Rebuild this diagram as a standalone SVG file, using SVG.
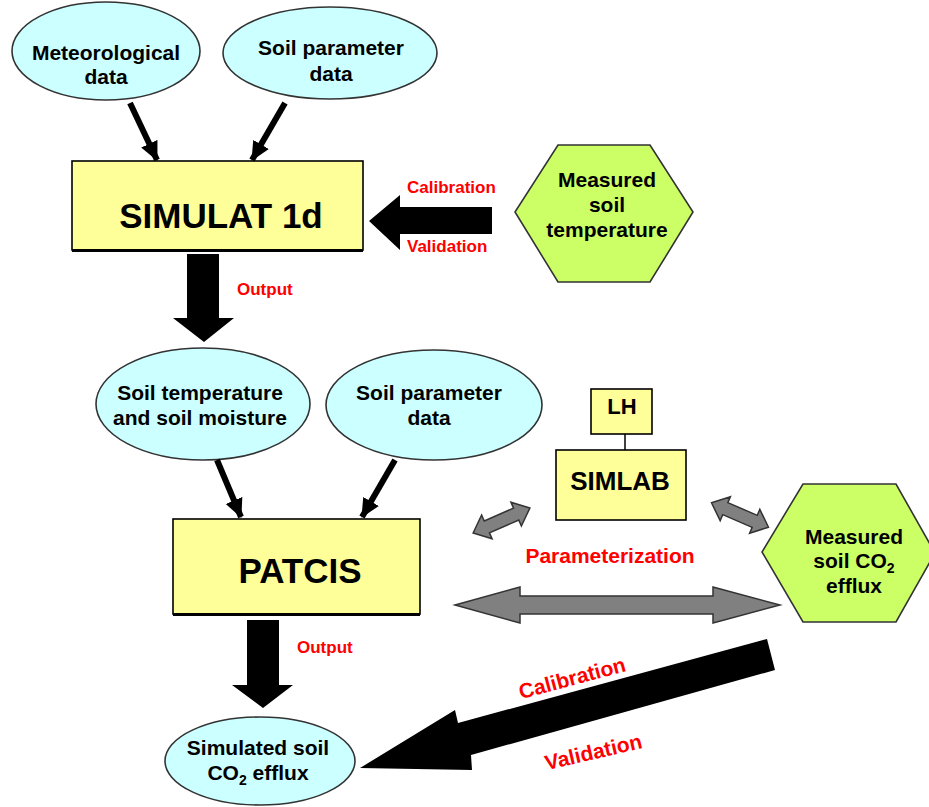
<svg xmlns="http://www.w3.org/2000/svg" width="929" height="807" viewBox="0 0 929 807">
<defs>
<style>
.ell{fill:#ccffff;stroke:#333;stroke-width:1.6}
.box{fill:#ffff99;stroke:#000;stroke-width:1.6}
.hex{fill:#ccff66;stroke:#333;stroke-width:1.6}
.t{font-family:"Liberation Sans",Arial,sans-serif;font-weight:bold;fill:#000;text-anchor:middle}
.n{font-size:21px}
.big{font-size:35px}
.red{font-family:"Liberation Sans",Arial,sans-serif;font-weight:bold;fill:#ff0000}
.ga{fill:#808080;stroke:#333;stroke-width:1.5}
.thin{stroke:#000;stroke-width:6;fill:none}
</style>
<marker id="ah" markerUnits="userSpaceOnUse" markerWidth="20" markerHeight="20" viewBox="0 0 20 20" refX="18" refY="10" orient="auto">
<path d="M0,1 L19,10 L0,19 Z" fill="#000"/>
</marker>
</defs>
<rect width="929" height="807" fill="#fff"/>

<g id="meteorological">
<ellipse class="ell" cx="106" cy="51" rx="94" ry="49"/>
<text class="t n" x="106" y="60">Meteorological</text>
<text class="t n" x="106" y="84">data</text>
</g>
<g id="soil-param-1">
<ellipse class="ell" cx="330" cy="53" rx="107" ry="46"/>
<text class="t n" x="331" y="55">Soil parameter</text>
<text class="t n" x="331" y="81">data</text>
</g>
<g id="simulat">
<rect class="box" x="72" y="161" width="291" height="89"/>
<line x1="72" y1="250.5" x2="363" y2="250.5" stroke="#000" stroke-width="3"/>
<text class="t big" x="221" y="228">SIMULAT 1d</text>
</g>
<g id="measured-temp">
<polygon class="hex" points="558,145 650,145 693,212 650,282 558,282 515,212"/>
<text class="t n" x="607" y="187">Measured</text>
<text class="t n" x="607" y="212">soil</text>
<text class="t n" x="607" y="237">temperature</text>
</g>
<g id="soil-temp-moist">
<ellipse class="ell" cx="203" cy="404" rx="107" ry="56"/>
<text class="t n" x="200" y="400">Soil temperature</text>
<text class="t n" x="200" y="425">and soil moisture</text>
</g>
<g id="soil-param-2">
<ellipse class="ell" cx="434" cy="405" rx="108" ry="55"/>
<text class="t n" x="429" y="400">Soil parameter</text>
<text class="t n" x="429" y="425">data</text>
</g>
<g id="lh">
<rect class="box" x="591" y="389" width="61" height="45"/>
<text class="t" x="622" y="414" font-size="22">LH</text>
</g>
<g id="simlab">
<rect class="box" x="556" y="450" width="130" height="70"/>
<text class="t" x="620" y="490" font-size="26">SIMLAB</text>
</g>
<g id="patcis">
<rect class="box" x="173" y="519" width="247" height="95"/>
<line x1="173" y1="614.5" x2="420" y2="614.5" stroke="#000" stroke-width="3"/>
<text class="t big" x="300" y="583">PATCIS</text>
</g>
<g id="measured-co2">
<polygon class="hex" points="803,484 896,484 935,553 896,622 803,622 762,552"/>
<text class="t n" x="854" y="544">Measured</text>
<text class="t n" x="854" y="568">soil CO<tspan font-size="14" dy="5">2</tspan></text>
<text class="t n" x="854" y="593">efflux</text>
</g>
<g id="simulated-co2">
<ellipse class="ell" cx="260" cy="761" rx="95" ry="44"/>
<text class="t n" x="258" y="755">Simulated soil</text>
<text class="t n" x="258" y="780">CO<tspan font-size="14" dy="5">2</tspan><tspan dy="-5"> efflux</tspan></text>
</g>

<g id="connectors">
<line class="thin" x1="130" y1="103" x2="157" y2="160" marker-end="url(#ah)"/>
<line class="thin" x1="285" y1="103" x2="252" y2="160" marker-end="url(#ah)"/>
<line class="thin" x1="217" y1="460" x2="241" y2="517" marker-end="url(#ah)"/>
<line class="thin" x1="395" y1="460" x2="362" y2="517" marker-end="url(#ah)"/>
<line x1="625" y1="434" x2="625" y2="450" stroke="#000" stroke-width="1.5"/>
<polygon points="369,221 400,195 400,207 492,207 492,234 400,234 400,250" fill="#000"/>
<polygon points="187,254 219,254 219,318 234,318 204,342 173,318 187,318" fill="#000"/>
<polygon points="247,620 279,620 279,685 293,685 263,708 232,685 247,685" fill="#000"/>
<polygon points="767,639 458,723 455,710 360,768 472,770 471,755 775,670" fill="#000"/>
<polygon class="ga" points="455,605 520,587 520,596 713,596 713,587 780,605 713,623 713,614 520,614 520,623"/>
<g transform="translate(501.5,520.5) rotate(-23.7)">
<polygon class="ga" points="-31,0 -16,-13 -16,-6.5 16,-6.5 16,-13 31,0 16,13 16,6.5 -16,6.5 -16,13"/>
</g>
<g transform="translate(740,515) rotate(23.2)">
<polygon class="ga" points="-31,0 -16,-13 -16,-6.5 16,-6.5 16,-13 31,0 16,13 16,6.5 -16,6.5 -16,13"/>
</g>
</g>

<g id="labels">
<text class="red" x="407" y="193" font-size="17">Calibration</text>
<text class="red" x="407" y="252" font-size="17">Validation</text>
<text class="red" x="237" y="295" font-size="17">Output</text>
<text class="red" x="297" y="653" font-size="17">Output</text>
<text class="red" x="610" y="563" font-size="21" text-anchor="middle">Parameterization</text>
<text class="red" x="0" y="0" font-size="21" text-anchor="middle" transform="translate(574,685) rotate(-15)">Calibration</text>
<text class="red" x="0" y="0" font-size="21" text-anchor="middle" transform="translate(595,759) rotate(-13)">Validation</text>
</g>
</svg>
